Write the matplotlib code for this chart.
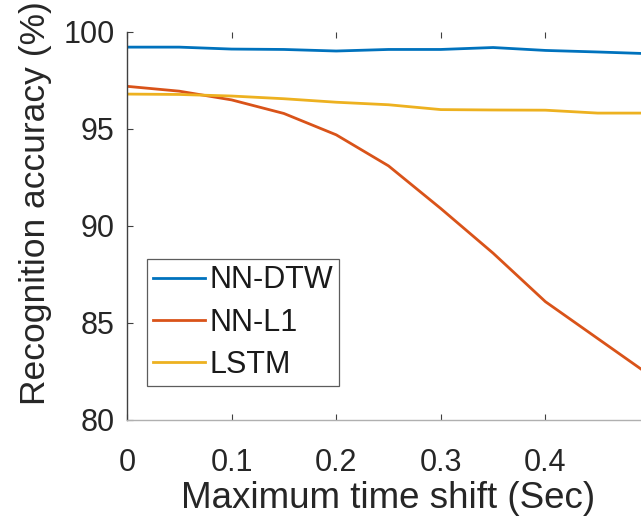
import matplotlib
matplotlib.use("Agg")
import matplotlib.pyplot as plt

shift = [0.0, 0.05, 0.10, 0.15, 0.20, 0.25, 0.30, 0.35, 0.40, 0.45, 0.50]
nn_dtw = [99.22, 99.22, 99.12, 99.10, 99.02, 99.10, 99.10, 99.20, 99.05, 98.97, 98.88]
nn_l1 = [97.20, 96.95, 96.50, 95.80, 94.70, 93.10, 90.90, 88.60, 86.10, 84.20, 82.30]
lstm = [96.80, 96.78, 96.70, 96.56, 96.38, 96.25, 96.00, 95.98, 95.97, 95.82, 95.82]
series_names = ["NN-DTW", "NN-L1", "LSTM"]
xticks = [0, 0.1, 0.2, 0.3, 0.4]
xtick_labels = ["0", "0.1", "0.2", "0.3", "0.4"]
yticks = [80, 85, 90, 95, 100]

plt.rcParams['font.family'] = ['Liberation Sans', 'DejaVu Sans']

fig = plt.figure(figsize=(6.41, 5.20), dpi=100)
ax = fig.add_axes([127/641, 100/520, 523/641, 388/520])

colors = ["#0072BD", "#D95319", "#EDB120"]
for ys, name, c in zip([nn_dtw, nn_l1, lstm], series_names, colors):
    ax.plot(shift, ys, color=c, lw=2.0, label=name)

ax.set_xlim(0, 0.5)
ax.set_ylim(80, 100)
ax.set_xticks(xticks)
ax.set_xticklabels(xtick_labels)
ax.set_yticks(yticks)

for s in ["top", "right"]:
    ax.spines[s].set_visible(False)
ax.spines["left"].set_color("#404040")
ax.spines["bottom"].set_color("#b0b0b0")
ax.spines["left"].set_linewidth(1.0)
ax.spines["bottom"].set_linewidth(1.0)
ax.tick_params(axis="both", direction="in", length=4, width=0.8, colors="#404040",
               labelsize=22, labelcolor="#262626", top=True)
ax.tick_params(axis="x", pad=20)
ax.tick_params(axis="y", pad=9)

ax.set_xlabel("Maximum time shift (Sec)", fontsize=26.5, color="#262626", labelpad=2)
ax.set_ylabel("Recognition accuracy (%)", fontsize=25.5, color="#262626")
ax.yaxis.set_label_coords(-0.143, 0.559)

leg = ax.legend(loc="lower left", bbox_to_anchor=(0.038, 0.088), borderaxespad=0,
                fontsize=22, frameon=True, fancybox=False, handlelength=1.7,
                handletextpad=0.15, labelspacing=0.4, borderpad=0.2)
leg.get_frame().set_edgecolor("#333333")
leg.get_frame().set_linewidth(0.9)
for t in leg.get_texts():
    t.set_color("#1a1a1a")

fig.savefig("out.png", dpi=100)
